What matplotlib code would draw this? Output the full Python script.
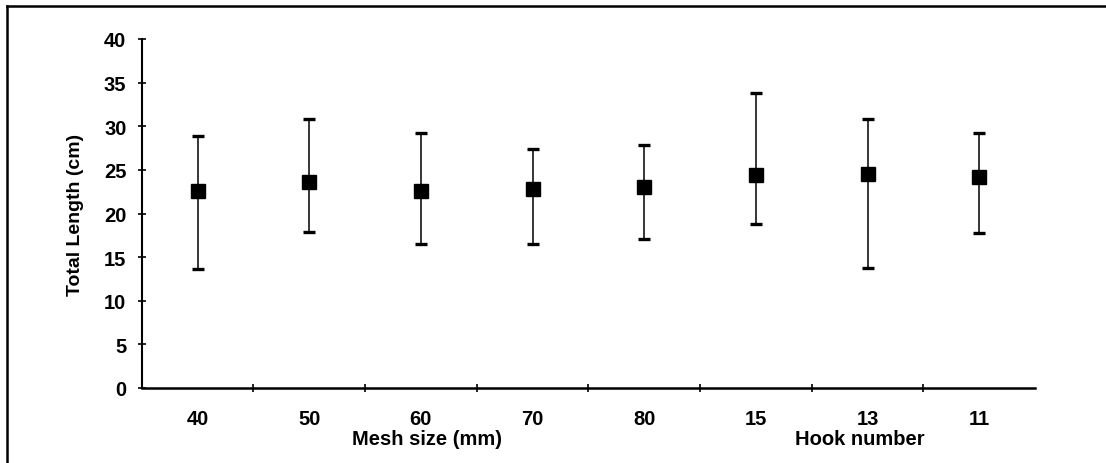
import matplotlib.pyplot as plt
from matplotlib.lines import Line2D
import numpy as np

# ---------------------------------------------------------------------------
# Data (total length, cm)
# ---------------------------------------------------------------------------
categories = ["40", "50", "60", "70", "80", "15", "13", "11"]
means = [22.6, 23.6, 22.6, 22.8, 23.0, 24.4, 24.5, 24.2]
lows = [13.6, 17.9, 16.5, 16.5, 17.1, 18.8, 13.8, 17.8]
highs = [28.9, 30.8, 29.2, 27.4, 27.8, 33.8, 30.8, 29.2]

y_ticks = [0, 5, 10, 15, 20, 25, 30, 35, 40]

plt.rcParams["font.family"] = ["Liberation Sans", "DejaVu Sans"]
plt.rcParams["font.weight"] = "bold"

W, H = 1106, 464
fig = plt.figure(figsize=(W / 100, H / 100), dpi=100)
ax = fig.add_axes([141.7 / W, 1 - 389 / H, (1035 - 141.7) / W, (389 - 40) / H])

x = np.arange(1, len(categories) + 1)
means_a = np.array(means)
yerr = [means_a - np.array(lows), np.array(highs) - means_a]

ax.errorbar(
    x, means, yerr=yerr, fmt="s", color="black", ms=9.5, mec="black",
    elinewidth=1.1, capsize=4.5, capthick=2.4, ecolor="black",
)

ax.set_xlim(0.5, len(categories) + 0.5)
ax.set_ylim(0, 40)
ax.set_yticks(y_ticks)
ax.set_yticklabels([str(v) for v in y_ticks], fontsize=14.5, fontweight="bold")
ax.set_xticks(x)
ax.set_xticklabels(categories, fontsize=14.5, fontweight="bold")
ax.set_xticks(np.arange(1.5, len(categories) + 0.5, 1.0), minor=True)

ax.tick_params(axis="y", direction="inout", length=6, width=1.2, pad=8)
ax.tick_params(axis="x", which="major", length=0, pad=15)
ax.tick_params(axis="x", which="minor", direction="inout", length=6, width=1.2)

for side in ("top", "right"):
    ax.spines[side].set_visible(False)
ax.spines["left"].set_linewidth(1.5)
ax.spines["bottom"].set_linewidth(1.8)

ax.set_ylabel("Total Length (cm)", fontsize=14, fontweight="bold")
ax.yaxis.set_label_coords((84 - 141.7) / (1035 - 141.7), 0.5)

fig.text(427 / W, 1 - 440 / H, "Mesh size (mm)", ha="center", va="center",
         fontsize=14.5, fontweight="bold")
fig.text(860 / W, 1 - 440 / H, "Hook number", ha="center", va="center",
         fontsize=14.5, fontweight="bold")

# outer frame (left and top edges visible in the scan)
fig.add_artist(Line2D([7 / W, 7 / W], [0, 1 - 7 / H], color="black", lw=1.8,
                      transform=fig.transFigure))
fig.add_artist(Line2D([7 / W, 1], [1 - 7 / H, 1 - 7 / H], color="black", lw=1.8,
                      transform=fig.transFigure))

fig.savefig("out.png", dpi=100)
